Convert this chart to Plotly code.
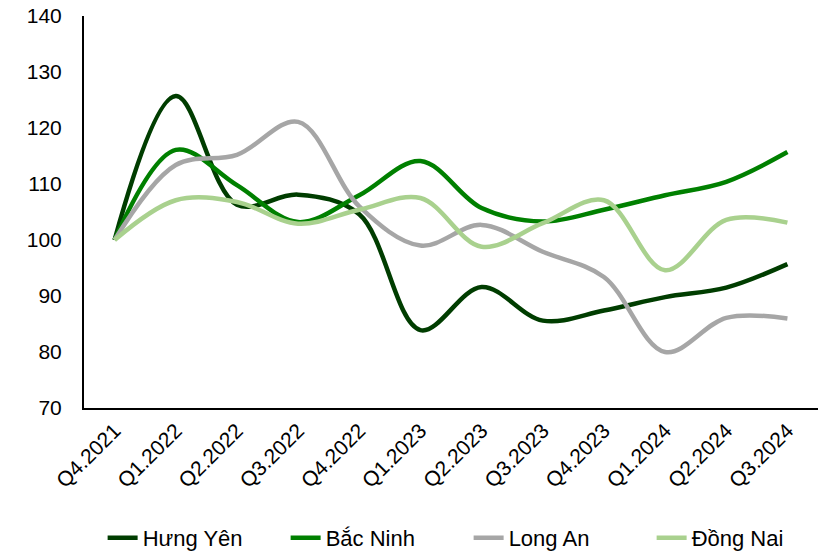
import plotly.graph_objects as go

quarters = ["Q4.2021", "Q1.2022", "Q2.2022", "Q3.2022", "Q4.2022", "Q1.2023",
            "Q2.2023", "Q3.2023", "Q4.2023", "Q1.2024", "Q2.2024", "Q3.2024"]

hung_yen = [100, 125.7, 106.3, 108.1, 104.6, 83.9, 91.6, 85.6, 87.4, 89.8, 91.5, 95.7]
bac_ninh = [100, 116.1, 109.8, 103.2, 108.0, 114.1, 105.7, 103.3, 105.4, 108.0, 110.4, 115.7]
long_an = [100, 113.4, 115.2, 121.1, 106.0, 99.0, 102.7, 97.9, 93.4, 80.0, 86.1, 86.0]
dong_nai = [100, 107.1, 106.8, 102.9, 105.4, 107.5, 98.8, 103.0, 107.1, 94.6, 103.6, 103.1]

series = [
    ("Hưng Yên", hung_yen, "#003d00"),
    ("Bắc Ninh", bac_ninh, "#008000"),
    ("Long An", long_an, "#a6a6a6"),
    ("Đồng Nai", dong_nai, "#a9d18e"),
]

fig = go.Figure()
for name, vals, color in series:
    fig.add_trace(go.Scatter(
        x=quarters, y=vals, name=name, mode="lines",
        line=dict(color=color, width=4.5, shape="spline", smoothing=1.0),
    ))

font_family = "Liberation Sans, Arial, sans-serif"
fig.update_layout(
    width=831, height=555,
    margin=dict(l=84, r=13, t=16, b=147, autoexpand=False),
    paper_bgcolor="white", plot_bgcolor="white",
    font=dict(family=font_family, color="#000000"),
    showlegend=True,
    legend=dict(orientation="h", xref="container", yref="container",
                x=0.1235, xanchor="left", y=0.0306, yanchor="middle",
                font=dict(size=22, family=font_family),
                entrywidth=138, entrywidthmode="pixels",
                traceorder="normal"),
    xaxis=dict(
        type="category", range=[-0.5, 11.5], automargin=False,
        showline=True, linecolor="#000000", linewidth=2,
        showgrid=False, ticks="", tickangle=-45,
        tickfont=dict(size=21, family=font_family),
        ticklabeloverflow="allow",
    ),
    yaxis=dict(
        range=[70, 140], dtick=10, tick0=70, automargin=False,
        showline=True, linecolor="#000000", linewidth=2,
        showgrid=False, zeroline=False,
        ticks="outside", ticklen=16, tickcolor="rgba(0,0,0,0)",
        tickfont=dict(size=21, family=font_family),
        ticklabeloverflow="allow",
    ),
)

fig.write_html("out.html", config={"displayModeBar": False},
               post_script="document.body.style.margin='0';")
